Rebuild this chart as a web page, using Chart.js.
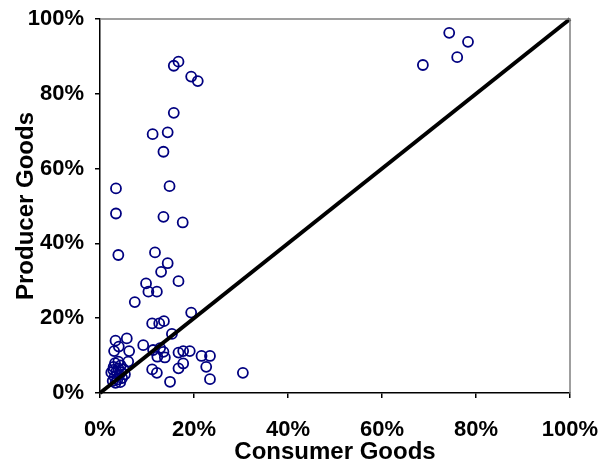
<!DOCTYPE html>
<html>
<head>
<meta charset="utf-8">
<script src="https://cdn.jsdelivr.net/npm/chart.js@4/dist/chart.umd.min.js"></script>
<style>
html,body{margin:0;padding:0;background:#fff;}
#wrap{width:603px;height:468px;}
</style>
</head>
<body>
<div id="wrap"><canvas id="c" width="603" height="468"></canvas></div>
<script>
// Consumer Goods share (%) — x values
const consumerGoods = [
  74.3, 78.3, 76.0, 68.7,
  16.7, 15.7, 19.4, 20.8, 15.7, 11.2, 14.4, 13.5,
  3.4, 14.8, 3.4, 13.5, 17.6, 3.9, 11.7, 14.4, 13.0, 16.7, 9.8, 10.3, 12.1,
  7.4, 19.4, 11.1, 12.6, 13.6, 15.3,
  3.3, 5.7, 9.2, 3.0, 4.0, 6.2, 11.3, 12.8, 13.5, 12.2, 13.8,
  16.7, 17.7, 19.1, 21.6, 23.4, 17.7, 16.7, 22.6, 11.1, 12.1, 23.4, 14.9, 30.4,
  3.9, 6.0,
  2.4, 2.7, 2.9, 3.1, 3.3, 3.5, 3.7, 3.9, 4.1, 4.3, 4.5, 4.7, 5.0, 5.3, 3.2, 4.4, 2.8
];
// Producer Goods share (%) — y values
const producerGoods = [
  96.3, 93.9, 89.8, 87.7,
  88.6, 87.5, 84.6, 83.4, 74.9, 69.2, 69.7, 64.5,
  54.7, 55.3, 48.0, 47.1, 45.6, 36.9, 37.6, 34.7, 32.4, 29.9, 29.3, 27.1, 27.1,
  24.3, 21.5, 18.6, 18.6, 19.2, 15.8,
  14.0, 14.6, 12.8, 11.2, 12.4, 11.2, 11.5, 12.0, 11.0, 9.7, 9.5,
  10.8, 11.2, 11.2, 9.9, 9.9, 7.9, 6.6, 7.0, 6.3, 5.4, 3.7, 3.0, 5.4,
  8.4, 8.4,
  5.5, 3.2, 7.0, 4.3, 2.7, 5.8, 3.6, 6.6, 4.8, 2.9, 5.6, 4.0, 6.4, 5.0, 8.0, 7.4, 6.2
];
// 45-degree reference line endpoints
const diagonal = [0, 100];
const tickValues = [0, 20, 40, 60, 80, 100];

const points = consumerGoods.map((x, i) => ({x: x, y: producerGoods[i]}));
const lineData = diagonal.map(v => ({x: v, y: v}));

const FONT = "'Liberation Sans', Arial, Helvetica, sans-serif";

const framePlugin = {
  id: 'frame',
  afterDatasetsDraw(chart) {
    const {ctx, chartArea: a} = chart;
    ctx.save();
    ctx.strokeStyle = '#808080';
    ctx.lineWidth = 1.5;
    ctx.beginPath();
    ctx.moveTo(a.left, a.top);
    ctx.lineTo(a.right, a.top);
    ctx.lineTo(a.right, a.bottom);
    ctx.stroke();
    ctx.restore();
  }
};

new Chart(document.getElementById('c'), {
  type: 'scatter',
  data: {
    datasets: [
      {
        type: 'line',
        data: lineData,
        borderColor: '#000000',
        borderWidth: 4,
        pointRadius: 0,
        fill: false,
        clip: false,
        order: 0
      },
      {
        data: points,
        pointStyle: 'circle',
        pointRadius: 5,
        pointBorderWidth: 1.8,
        borderColor: '#000080',
        backgroundColor: 'rgba(0,0,0,0)',
        pointBackgroundColor: 'rgba(0,0,0,0)',
        pointBorderColor: '#000080',
        order: 1
      }
    ]
  },
  options: {
    responsive: false,
    animation: false,
    layout: {padding: {left: 0, right: 33, top: 19, bottom: 0}},
    plugins: {legend: {display: false}, tooltip: {enabled: false}},
    scales: {
      x: {
        type: 'linear',
        min: 0, max: 100,
        afterBuildTicks: s => { s.ticks = tickValues.map(v => ({value: v})); },
        afterFit: s => { s.height = 75; s.paddingLeft = 0; s.paddingRight = 0; },
        ticks: {
          padding: 19,
          color: '#000',
          font: {family: FONT, size: 22, weight: 'bold'},
          callback: v => v + '%'
        },
        grid: {display: true, drawOnChartArea: false, drawTicks: true, tickLength: 5, color: '#000', lineWidth: 1.5},
        border: {display: true, color: '#000', width: 1.5},
        title: {
          display: true,
          text: 'Consumer Goods',
          color: '#000',
          font: {family: FONT, size: 24, weight: 'bold'},
          padding: {top: 0, bottom: 1}
        }
      },
      y: {
        type: 'linear',
        min: 0, max: 100,
        afterBuildTicks: s => { s.ticks = tickValues.map(v => ({value: v})); },
        afterFit: s => { s.width = 100; s.paddingTop = 0; s.paddingBottom = 0; },
        ticks: {
          padding: 11,
          color: '#000',
          font: {family: FONT, size: 22, weight: 'bold'},
          callback: v => v + '%'
        },
        grid: {display: true, drawOnChartArea: false, drawTicks: true, tickLength: 5, color: '#000', lineWidth: 1.5},
        border: {display: true, color: '#000', width: 1.5},
        title: {
          display: true,
          text: 'Producer Goods',
          color: '#000',
          font: {family: FONT, size: 24, weight: 'bold'},
          padding: {top: 12, bottom: 0}
        }
      }
    }
  },
  plugins: [framePlugin]
});
</script>
</body>
</html>
